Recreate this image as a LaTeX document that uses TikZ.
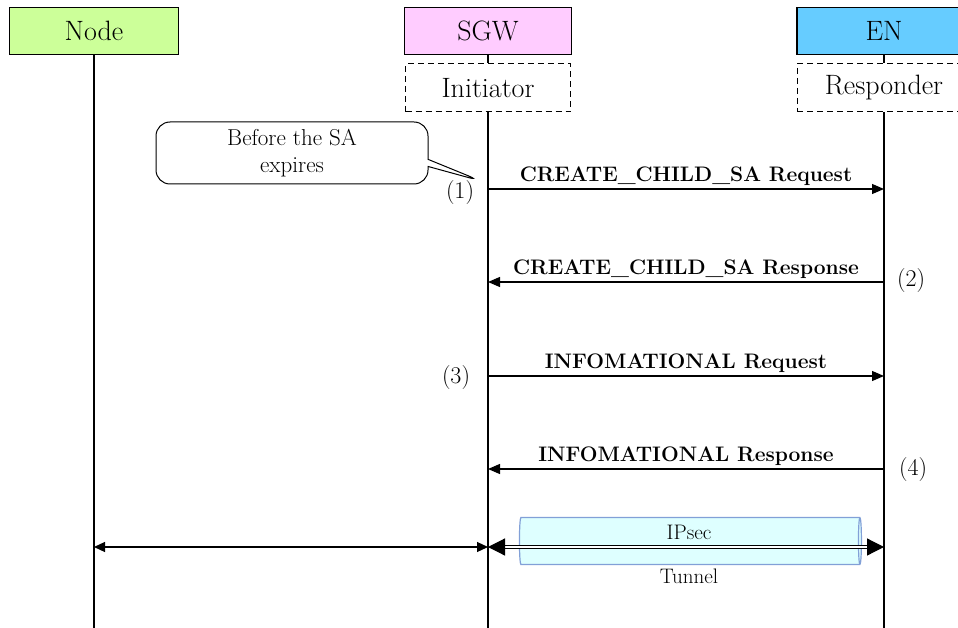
\documentclass[tikz,border=0pt]{standalone}
\usetikzlibrary{arrows.meta,shapes.geometric,shapes.callouts,positioning}
\definecolor{nodegreen}{RGB}{204,255,153}
\definecolor{sgwpink}{RGB}{255,204,255}
\definecolor{enblue}{RGB}{102,204,255}
\definecolor{tunfill}{RGB}{222,255,255}
\definecolor{tunblue}{RGB}{130,160,215}

\begin{document}
\begin{tikzpicture}[x=1pt,y=-1pt,
    entity/.style={draw,line width=1.3pt,minimum height=47pt,inner sep=0pt,
      font=\fontsize{28}{32}\selectfont},
    role/.style={draw,line width=1pt,dash pattern=on 6pt off 4pt,minimum height=48pt,
      inner sep=0pt,font=\fontsize{28}{32}\selectfont},
    life/.style={line width=1.2pt},
    msg/.style={line width=1.2pt,-{Triangle[length=12pt,width=10pt]}},
    lbl/.style={font=\fontsize{21}{25}\selectfont\bfseries,inner sep=3pt},
    num/.style={font=\fontsize{24}{28}\selectfont,inner sep=0pt},
    small/.style={font=\fontsize{21}{25}\selectfont}]
  \clip (0,0) rectangle (958,628);
  \coordinate (bot) at (0,628);

  % entities and roles
  \node[entity,fill=nodegreen,minimum width=169pt] (nd) at (94,31) {Node};
  \node[entity,fill=sgwpink,minimum width=167pt] (sgw) at (488,31) {SGW};
  \node[entity,fill=enblue,minimum width=174pt] (en) at (884,31) {EN};
  \node[role,minimum width=165pt] (init) at (488,88) {Initiator};
  \node[role,minimum width=174pt] (resp) at (884,88) {Responder};

  % lifelines
  \draw[life] (nd.south) -- (nd.south |- bot);
  \draw[life] (sgw.south) -- (init.north);
  \draw[life] (init.south) -- (init.south |- bot);
  \draw[life] (en.south) -- (resp.north);
  \draw[life] (resp.south) -- (resp.south |- bot);

  % note
  \node[rectangle callout,draw,line width=1pt,rounded corners=14pt,
    minimum width=272pt,minimum height=62pt,align=center,
    font=\fontsize{23}{27}\selectfont,
    callout absolute pointer={(481,181)}] (note) at (292,153) {Before the SA\\expires};

  % messages
  \draw[msg] (init.south |- 0,189) -- (resp.south |- 0,189)
    node[midway,above,lbl] {CREATE\_CHILD\_SA Request};
  \draw[msg] (resp.south |- 0,282) -- (init.south |- 0,282)
    node[midway,above,lbl] {CREATE\_CHILD\_SA Response};
  \draw[msg] (init.south |- 0,376) -- (resp.south |- 0,376)
    node[midway,above,lbl] {INFOMATIONAL Request};
  \draw[msg] (resp.south |- 0,469) -- (init.south |- 0,469)
    node[midway,above,lbl] {INFOMATIONAL Response};

  \node[num] (n1) at (460,193) {(1)};
  \node[num] (n2) at (911,281) {(2)};
  \node[num] (n3) at (456,378) {(3)};
  \node[num] (n4) at (913,470) {(4)};

  % tunnel
  \node[cylinder,draw=tunblue,fill=tunfill,line width=1.2pt,shape aspect=0.45,
    minimum width=47pt,minimum height=342pt] (tun) at (689,541) {};
  \draw[line width=1.2pt,{Triangle[length=11pt,width=10pt]}-{Triangle[length=11pt,width=10pt]}]
    (nd.south |- 0,547) -- (init.south |- 0,547);
  \draw[double,double distance=2pt,line width=1.2pt,
    {Triangle[length=17pt,width=17pt]}-{Triangle[length=17pt,width=17pt]}]
    (init.south |- 0,547) -- (resp.south |- 0,547);
  \node[small] (ipsec) at (689,532) {IPsec};
  \node[small,below=0pt of tun] (tunlbl) {Tunnel};
\end{tikzpicture}
\end{document}
